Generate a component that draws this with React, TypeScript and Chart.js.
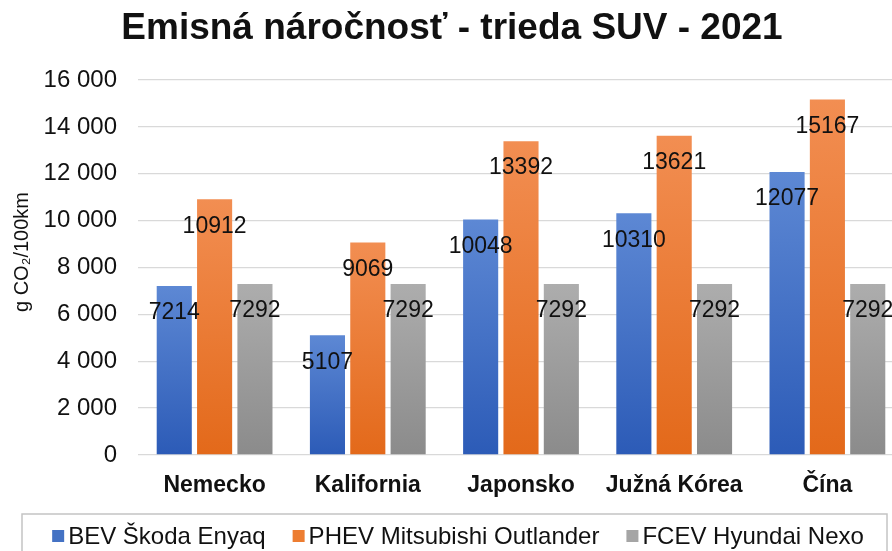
import React, { useEffect, useRef } from "react";
import { Chart, registerables } from "chart.js";

Chart.register(...registerables);

const TITLE = "Emisná náročnosť - trieda SUV - 2021";
const Y_TITLE = "g CO₂/100km";
const CATEGORIES = ["Nemecko", "Kalifornia", "Japonsko", "Južná Kórea", "Čína"];
const SERIES_NAMES = ["BEV Škoda Enyaq", "PHEV Mitsubishi Outlander", "FCEV Hyundai Nexo"];
const BEV = [7214, 5107, 10048, 10310, 12077];
const PHEV = [10912, 9069, 13392, 13621, 15167];
const FCEV = [7292, 7292, 7292, 7292, 7292];
const Y_MAX = 16000;
const Y_STEP = 2000;

const FONT = "'Liberation Sans', Arial, Helvetica, sans-serif";
const GRADS = [
  ["#5d88d4", "#2c5bb7"],
  ["#f28e52", "#e3691a"],
  ["#adadad", "#8b8b8b"],
];
const LEGEND_COLORS = ["#4472c4", "#ed7d31", "#a5a5a5"];

function fmt(v: number) {
  return String(v).replace(/\B(?=(\d{3})+(?!\d))/g, " ");
}

function gradientFor(i: number) {
  return (ctx: any) => {
    const chart = ctx.chart;
    const area = chart.chartArea;
    const ys = chart.scales && chart.scales.y;
    if (!area || !ys || ctx.raw == null) return GRADS[i][1];
    const top = ys.getPixelForValue(ctx.raw);
    const bottom = ys.getPixelForValue(0);
    if (!isFinite(top) || !isFinite(bottom) || bottom - top < 1) return GRADS[i][1];
    const g = chart.ctx.createLinearGradient(0, top, 0, bottom);
    g.addColorStop(0, GRADS[i][0]);
    g.addColorStop(1, GRADS[i][1]);
    return g;
  };
}

const dataLabelPlugin = {
  id: "dataLabels",
  afterDatasetsDraw(chart: any) {
    const ctx = chart.ctx;
    ctx.save();
    ctx.font = `23px ${FONT}`;
    ctx.fillStyle = "#111";
    ctx.textAlign = "center";
    ctx.textBaseline = "middle";
    chart.data.datasets.forEach((ds: any, di: number) => {
      const meta = chart.getDatasetMeta(di);
      meta.data.forEach((bar: any, i: number) => {
        ctx.fillText(String(ds.data[i]), bar.x, bar.y + 27);
      });
    });
    ctx.restore();
  },
};

const yTitlePlugin = {
  id: "yTitle",
  afterDraw(chart: any) {
    const ctx = chart.ctx;
    ctx.save();
    ctx.translate(22, 252);
    ctx.rotate(-Math.PI / 2);
    ctx.font = `20px ${FONT}`;
    ctx.fillStyle = "#111";
    ctx.textAlign = "center";
    ctx.textBaseline = "middle";
    ctx.fillText(Y_TITLE, 0, 0);
    ctx.restore();
  },
};

const legendPlugin = {
  id: "boxLegend",
  afterDraw(chart: any) {
    const ctx = chart.ctx;
    ctx.save();
    ctx.strokeStyle = "#c4c4c4";
    ctx.lineWidth = 1.5;
    ctx.strokeRect(22, 514, 865, 60);
    ctx.font = `24px ${FONT}`;
    ctx.textBaseline = "middle";
    ctx.textAlign = "left";
    const box = 12;
    const gapBoxText = 4;
    const gapItems = 27;
    const labels = chart.data.datasets.map((d: any) => d.label);
    const widths = labels.map((l: string) => box + gapBoxText + ctx.measureText(l).width);
    const total = widths.reduce((a: number, b: number) => a + b, 0) + gapItems * (labels.length - 1);
    let x = 458 - total / 2;
    const yc = 536;
    labels.forEach((l: string, i: number) => {
      ctx.fillStyle = LEGEND_COLORS[i];
      ctx.fillRect(x, yc - box / 2, box, box);
      ctx.fillStyle = "#111";
      ctx.fillText(l, x + box + gapBoxText, yc + 1);
      x += widths[i] + gapItems;
    });
    ctx.restore();
  },
};

export default function App() {
  const ref = useRef<HTMLCanvasElement | null>(null);
  useEffect(() => {
    if (!ref.current) return;
    const chart = new Chart(ref.current, {
      type: "bar",
      data: {
        labels: CATEGORIES,
        datasets: [BEV, PHEV, FCEV].map((d, i) => ({
          label: SERIES_NAMES[i],
          data: d,
          backgroundColor: gradientFor(i),
          borderWidth: 0,
          categoryPercentage: 0.79,
          barPercentage: 0.87,
        })),
      },
      options: {
        responsive: false,
        animation: false,
        layout: { padding: { left: 0, right: 8, top: 0, bottom: 36 } },
        plugins: {
          legend: { display: false },
          tooltip: { enabled: false },
          title: {
            display: true,
            text: TITLE,
            color: "#111",
            font: { family: FONT, size: 37, weight: "bold" },
            padding: { top: 7, bottom: 28.6 },
          },
        },
        scales: {
          x: {
            grid: { display: false, drawTicks: false },
            border: { display: false },
            ticks: {
              color: "#111",
              font: { family: FONT, size: 23, weight: "bold" },
              padding: 17,
              maxRotation: 0,
              autoSkip: false,
            },
            afterFit: (s: any) => {
              s.height = 60;
            },
          },
          y: {
            min: 0,
            max: Y_MAX,
            grid: { color: "#d9d9d9", lineWidth: 1.3, drawTicks: false },
            border: { display: false },
            ticks: {
              stepSize: Y_STEP,
              color: "#111",
              font: { family: FONT, size: 24 },
              padding: 21,
              callback: (v: any) => fmt(Number(v)),
            },
            title: { display: false },
            afterFit: (s: any) => {
              s.width = 138;
            },
          },
        },
      },
      plugins: [dataLabelPlugin, legendPlugin, yTitlePlugin],
    });
    return () => chart.destroy();
  }, []);

  return (
    <div
      style={{
        position: "fixed",
        left: 0,
        top: 0,
        width: 892,
        height: 551,
        overflow: "hidden",
        background: "#fff",
      }}
    >
      <canvas ref={ref} width={912} height={551} style={{ display: "block" }} />
    </div>
  );
}
